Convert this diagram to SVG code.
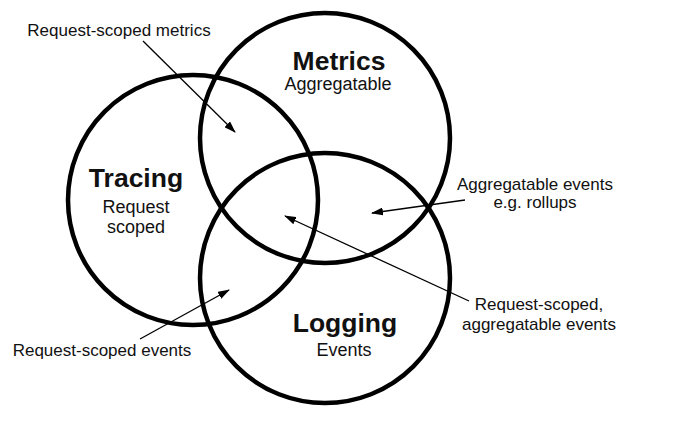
<svg xmlns="http://www.w3.org/2000/svg" width="683" height="423" viewBox="0 0 683 423">
<defs>
<style>
.c{fill:none;stroke:#000;stroke-width:4.5}
.t{font-family:"Liberation Sans",Arial,sans-serif;fill:#111;text-anchor:middle}
.h{font-weight:bold;font-size:26.5px}
.s{font-size:18px}
.l{font-size:17px}
.a{stroke:#000;stroke-width:1.3;fill:none;marker-end:url(#ah)}
</style>
<marker id="ah" markerWidth="12" markerHeight="8" refX="11" refY="4" orient="auto" markerUnits="userSpaceOnUse">
<path d="M0,0 L12,4 L0,8 Z" fill="#000"/>
</marker>
</defs>
<rect width="683" height="423" fill="#fff"/>
<g id="metrics">
<circle class="c" cx="325" cy="138" r="125"/>
<text class="t h" x="339" y="70">Metrics</text>
<text class="t s" x="338" y="90">Aggregatable</text>
</g>
<g id="tracing">
<circle class="c" cx="193" cy="200" r="125"/>
<text class="t h" x="136" y="187">Tracing</text>
<text class="t s" x="136" y="213">Request</text>
<text class="t s" x="136" y="233">scoped</text>
</g>
<g id="logging">
<circle class="c" cx="325" cy="278" r="125"/>
<text class="t h" x="345" y="332">Logging</text>
<text class="t s" x="344" y="356">Events</text>
</g>
<g id="labels">
<text class="t l" x="119" y="36">Request-scoped metrics</text>
<text class="t l" x="535" y="190">Aggregatable events</text>
<text class="t l" x="535" y="208">e.g. rollups</text>
<text class="t l" x="539" y="310">Request-scoped,</text>
<text class="t l" x="539" y="330">aggregatable events</text>
<text class="t l" x="102" y="356">Request-scoped events</text>
</g>
<g id="connectors">
<line class="a" x1="143" y1="41" x2="235" y2="132"/>
<line class="a" x1="465" y1="200" x2="372" y2="213"/>
<line class="a" x1="469" y1="301" x2="285" y2="216"/>
<line class="a" x1="140" y1="339" x2="229" y2="290"/>
</g>
</svg>
